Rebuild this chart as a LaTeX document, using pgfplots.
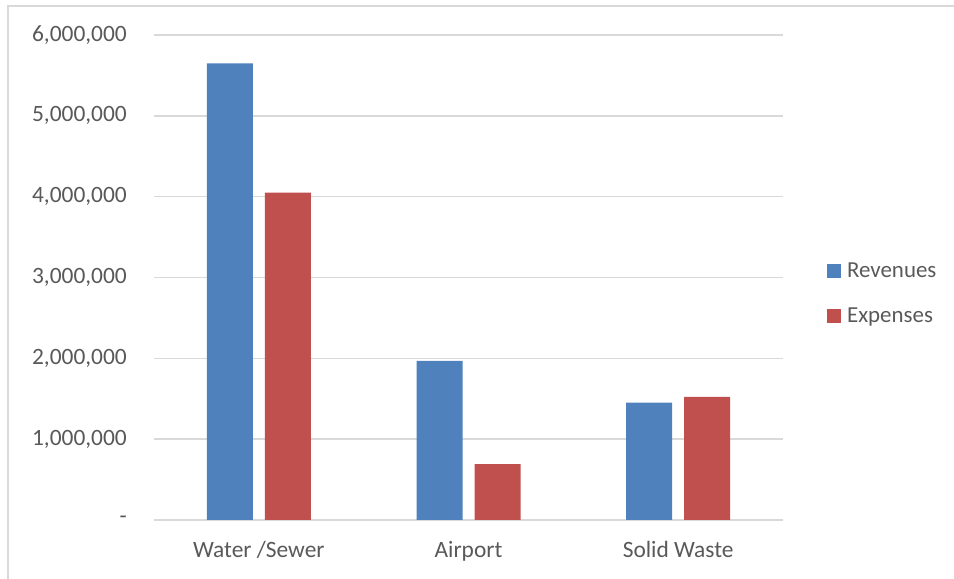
\documentclass[border=0pt]{standalone}
\usepackage{pgfplots}
\pgfplotsset{compat=1.18}
\usepackage{fontspec}
\setmainfont{Carlito}
\definecolor{txt}{HTML}{595959}
\definecolor{gridc}{HTML}{D9D9D9}
\definecolor{rev}{HTML}{4F81BD}
\definecolor{exp}{HTML}{C0504D}
\begin{document}
\begin{tikzpicture}[x=1bp,y=1bp]
\useasboundingbox (0,0) rectangle (954,579);
\draw[gridc, line width=1.5bp] (8,0) -- (8,573) -- (954,573);
\begin{axis}[
  at={(154bp,59bp)}, anchor=south west,
  scale only axis, width=629bp, height=485bp,
  ybar=12bp, bar width=46bp,
  xmin=-0.5, xmax=2.5, ymin=0, ymax=6000000,
  xtick={0,1,2},
  xticklabels={Water /Sewer, Airport, Solid Waste},
  ytick={0,1000000,2000000,3000000,4000000,5000000,6000000},
  yticklabels={-,{1,000,000},{2,000,000},{3,000,000},{4,000,000},{5,000,000},{6,000,000}},
  scaled y ticks=false,
  major tick length=0pt,
  axis line style={draw=none},
  ymajorgrids, grid style={gridc, line width=1.5bp},
  font=\fontsize{23.5}{28}\selectfont,
  tick label style={color=txt, font=\fontsize{23.5}{28}\selectfont},
  yticklabel style={inner sep=0pt, xshift=-27bp},
  xticklabel style={inner sep=0pt, anchor=base, yshift=-38bp},
  legend style={at={(1.065,0.467)}, anchor=west, draw=none, fill=none,
    font=\fontsize{23}{27}\selectfont, text=txt, row sep=29bp,
    /tikz/every even column/.append style={column sep=0pt},
    nodes={inner sep=0pt, anchor=west}},
  legend cell align=left,
  legend image code/.code={\fill[#1] (0bp,-7bp) rectangle (14bp,7bp);},
]
\addplot[fill=rev, draw=none] coordinates {(0,5650000) (1,1967000) (2,1453000)};
\addlegendentry{\hspace{6bp}Revenues}
\addplot[fill=exp, draw=none] coordinates {(0,4050000) (1,690000) (2,1522000)};
\addlegendentry{\hspace{6bp}Expenses}
\end{axis}
\end{tikzpicture}
\end{document}
